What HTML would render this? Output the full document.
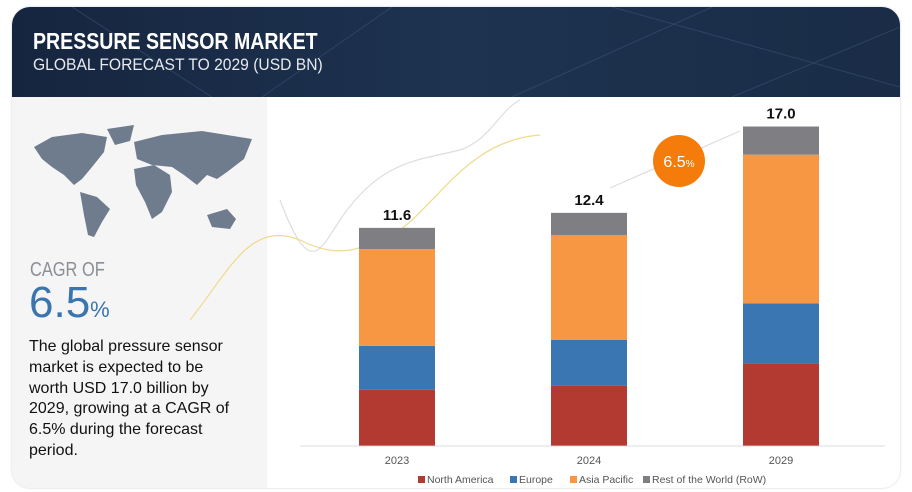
<!DOCTYPE html>
<html><head><meta charset="utf-8"><style>
body{margin:0;width:912px;height:492px;background:#fff;font-family:"Liberation Sans",sans-serif;overflow:hidden;position:relative}
#card{position:absolute;left:12px;top:7px;width:888px;height:481px;border-radius:18px;overflow:hidden;background:#fff;box-shadow:0 0 2px #ccc}
#hdr{position:absolute;left:0;top:0;width:888px;height:90px;background:linear-gradient(90deg,#16253f,#1d3350 50%,#1a2c46)}
#left{position:absolute;left:0;top:90px;width:255px;height:391px;background:#f5f5f5}
.t{position:absolute;white-space:nowrap}
</style></head><body>
<div id="card">
<div id="hdr">
<svg width="888" height="90" style="position:absolute;left:0;top:0">
<path d="M60 0 L200 90 M250 90 L380 0 M500 90 L700 0 M600 0 L888 80 M720 90 L888 20" stroke="#3a5270" stroke-width="1" fill="none" opacity="0.6"/>
</svg>
<div class="t" style="left:21px;top:21px;font-size:23px;font-weight:bold;color:#fff;transform:scaleX(0.85);transform-origin:left">PRESSURE SENSOR MARKET</div>
<div class="t" style="left:21px;top:48px;font-size:17px;color:#e6e9ee;transform:scaleX(0.92);transform-origin:left">GLOBAL FORECAST TO 2029 (USD BN)</div>
</div>
<div id="left">
<svg width="255" height="150" style="position:absolute;left:0;top:0">
<g fill="#6f7c8e">
<path d="M22 50 L40 40 L70 36 L95 40 L92 55 L80 70 L70 82 L62 88 L52 78 L40 70 L30 62 Z"/>
<path d="M95 32 L122 28 L118 44 L103 48 Z"/>
<path d="M68 95 L85 100 L98 112 L90 125 L82 140 L76 138 L72 118 Z"/>
<path d="M122 72 L142 68 L158 78 L160 95 L150 115 L140 122 L133 105 L124 88 Z"/>
<path d="M122 45 L150 38 L190 34 L240 42 L232 62 L215 75 L205 82 L195 78 L185 88 L172 78 L160 70 L140 68 L125 62 Z"/>
<path d="M195 118 L215 112 L224 122 L218 132 L200 130 Z"/>
</g>
</svg>
<div class="t" style="left:18px;top:162px;font-size:20px;color:#8a8f96;transform:scaleX(0.82);transform-origin:left">CAGR OF</div>
<div class="t" style="left:17px;top:181px;font-size:44px;color:#3a75b0">6.5<span style="font-size:22px">%</span></div>
<div class="t" style="left:17px;top:240px;font-size:16px;line-height:20.8px;color:#111">The global pressure sensor<br>market is expected to be<br>worth USD 17.0 billion by<br>2029, growing at a CAGR of<br>6.5% during the forecast<br>period.</div>
</div>
</div>
<svg id="chart" width="912" height="492" style="position:absolute;left:0;top:0"></svg>
<script>
const categories=["2023","2024","2029"];
const northAmerica=[2.98,3.18,4.38];
const europe=[2.33,2.46,3.2];
const asiaPacific=[5.16,5.58,7.92];
const rowWorld=[1.13,1.18,1.5];
const totals=["11.6","12.4","17.0"];
const seriesNames=["North America","Europe","Asia Pacific","Rest of the World (RoW)"];
const colors=["#b33a31","#3a76b2","#f79743","#7f7e83"];
const NS="http://www.w3.org/2000/svg";
const svg=document.getElementById('chart');
const base=445.6,scale=18.77,x0=397,step=192,bw=76;
const yS=v=>base-v*scale;
const xS=i=>x0+i*step;
function mk(t,a){const e=document.createElementNS(NS,t);for(const k in a)e.setAttribute(k,a[k]);svg.appendChild(e);return e;}
let c=mk('path',{d:'M280 200 C310 280 320 250 340 220 C380 160 420 160 460 150 C490 140 500 110 520 100',stroke:'#ddd',fill:'none','stroke-width':1.2});

let c2=mk('path',{d:'M190 320 C230 270 250 220 300 240 C340 260 360 250 400 230 C440 200 470 140 540 135',stroke:'#f0d98a',fill:'none','stroke-width':1.2});

let ax=mk('line',{x1:300,x2:885,y1:446,y2:446,stroke:'#ddd','stroke-width':1});

const series=[northAmerica,europe,asiaPacific,rowWorld];
categories.forEach((cat,i)=>{
  let acc=0;
  series.forEach((s,j)=>{
    const r=mk('rect',{x:xS(i)-bw/2,y:yS(acc+s[i]),width:bw,height:s[i]*scale,fill:colors[j]});
    
    
    acc+=s[i];
  });
  const tl=mk('text',{x:xS(i),y:yS(acc)-8,'text-anchor':'middle','font-size':15,'font-weight':'bold',fill:'#111'});
  tl.textContent=totals[i];
  
  
  const xl=mk('text',{x:xS(i),y:464,'text-anchor':'middle','font-size':11,fill:'#555'});
  xl.textContent=cat;
  
  
});
let ar=mk('line',{x1:610,y1:188,x2:740,y2:131,stroke:'#ddd','stroke-width':1.2});

let bub=mk('circle',{cx:679,cy:161,r:26,fill:'#f57c0a'});

let bt=mk('text',{x:679,y:167,'text-anchor':'middle','font-size':16,fill:'#fff'});
bt.innerHTML='6.5<tspan font-size="10">%</tspan>';

const lx=[418,510,570,643];
seriesNames.forEach((n,j)=>{
  const r=mk('rect',{x:lx[j],y:476,width:7,height:7,fill:colors[j]});
  
  
  const t=mk('text',{x:lx[j]+9,y:483,'font-size':10.5,fill:'#555'});
  t.textContent=n;
  
  
});
</script>
</body></html>
